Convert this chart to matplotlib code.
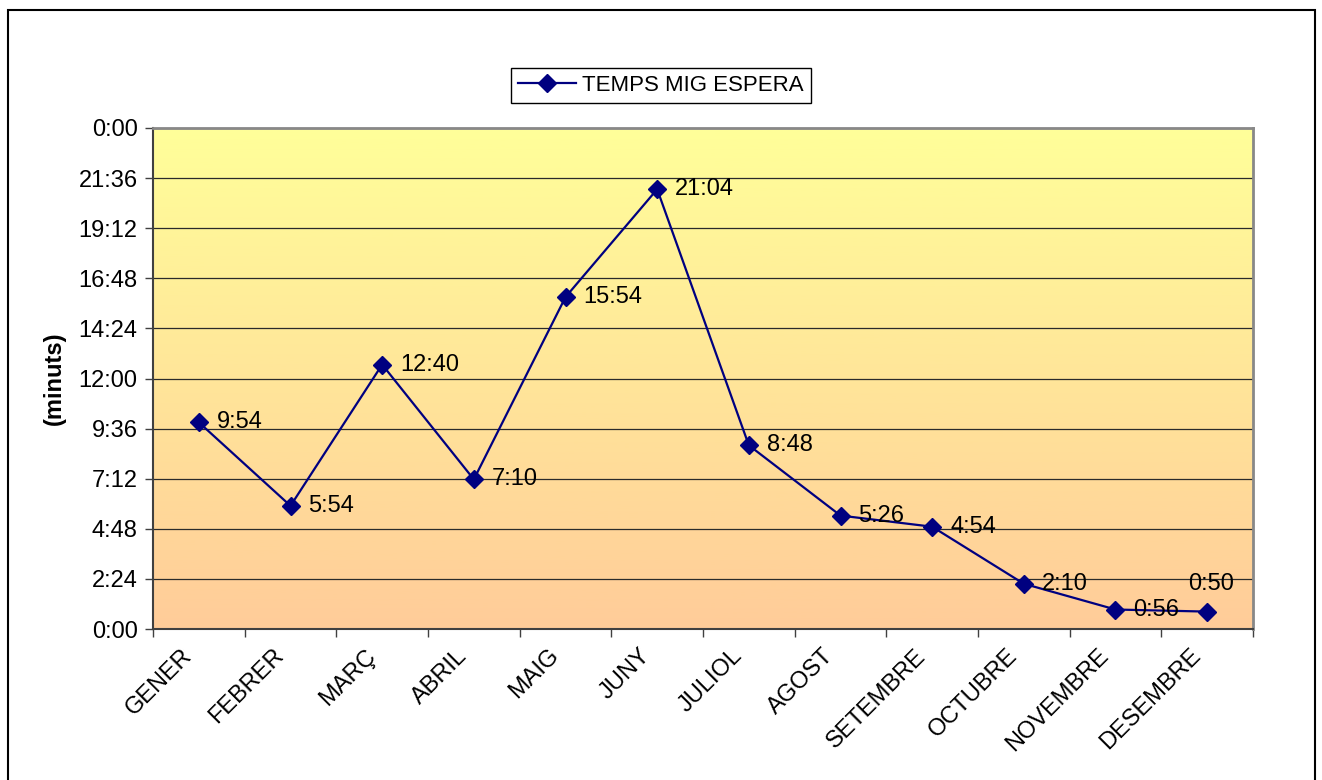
import numpy as np
import matplotlib
matplotlib.use("Agg")
import matplotlib.pyplot as plt
from matplotlib.colors import LinearSegmentedColormap
from matplotlib.patches import Rectangle
from matplotlib.ticker import FuncFormatter, MultipleLocator
from matplotlib.transforms import ScaledTranslation

plt.rcParams['font.family'] = ['Liberation Sans', 'DejaVu Sans']

# mesos i temps mig d'espera (min:seg)
mesos = ['GENER', 'FEBRER', 'MARÇ', 'ABRIL', 'MAIG', 'JUNY',
         'JULIOL', 'AGOST', 'SETEMBRE', 'OCTUBRE', 'NOVEMBRE', 'DESEMBRE']
temps = ['9:54', '5:54', '12:40', '7:10', '15:54', '21:04',
         '8:48', '5:26', '4:54', '2:10', '0:56', '0:50']
serie = 'TEMPS MIG ESPERA'


def a_minuts(t):
    m, s = t.split(':')
    return int(m) + int(s) / 60


valors = [a_minuts(t) for t in temps]


def fmt_temps(v, pos=None):
    total = int(round(v * 60))
    return f"{(total // 60) % 24}:{total % 60:02d}"


W, H = 1322, 780
fig = plt.figure(figsize=(W / 100, H / 100), dpi=100)
ax = fig.add_axes([153 / W, 1 - 629 / H, 1100 / W, 501 / H])

# fons degradat groc -> taronja
cmap = LinearSegmentedColormap.from_list('fons', ['#FFCC99', '#FFFF99'])
grad = np.linspace(0, 1, 256).reshape(-1, 1)
ax.imshow(grad, cmap=cmap, aspect='auto', origin='lower',
          extent=[0, 1, 0, 1], transform=ax.transAxes, zorder=0)

x = np.arange(len(mesos))
ax.set_xlim(-0.5, len(mesos) - 0.5)
ax.set_ylim(0, 24)
ax.yaxis.set_major_locator(MultipleLocator(2.4))
ax.yaxis.set_major_formatter(FuncFormatter(fmt_temps))
ax.grid(axis='y', color='#2a2a2a', lw=0.9, zorder=1)

ax.plot(x, valors, color='#000080', lw=1.6, marker='D', ms=9,
        mfc='#000080', mec='#000080', zorder=3, label=serie)

for i, (v, t) in enumerate(zip(valors, temps)):
    if i == len(mesos) - 1:
        ax.annotate(t, (x[i], v), xytext=(3, 20), textcoords='offset points',
                    ha='center', va='center', fontsize=17, zorder=4)
    else:
        ax.annotate(t, (x[i], v), xytext=(13, 0), textcoords='offset points',
                    ha='left', va='center', fontsize=17, zorder=4)

# marques de l'eix x entre categories
ax.set_xticks(np.arange(-0.5, len(mesos)), minor=False)
ax.set_xticklabels([])
ax.set_xticks(x, minor=True)
ax.set_xticklabels(mesos, minor=True, rotation=45, ha='right', va='center',
                   rotation_mode='anchor', fontsize=17)
ax.tick_params(axis='x', which='minor', length=0, pad=17)
ax.tick_params(axis='x', which='major', length=6, width=1, color='#404040')
ax.tick_params(axis='y', length=6, width=1, color='#404040', labelsize=17, pad=5)

desplaca = ScaledTranslation(-10 / 100, 0, fig.dpi_scale_trans)
for lab in ax.get_xticklabels(minor=True):
    lab.set_transform(lab.get_transform() + desplaca)

for side in ['left', 'bottom']:
    ax.spines[side].set_color('#404040')
    ax.spines[side].set_linewidth(1.5)
for side in ['top', 'right']:
    ax.spines[side].set_color('#888888')
    ax.spines[side].set_linewidth(2)

fig.text(54 / W, 1 - 378 / H, '(minuts)', rotation=90, ha='center', va='center',
         fontsize=17, fontweight='bold')

leg = fig.legend(loc='center', bbox_to_anchor=(661 / W, 1 - 85.5 / H),
                 fontsize=16, frameon=True, fancybox=False, edgecolor='black',
                 framealpha=1, handlelength=2.6, borderpad=0.3,
                 handletextpad=0.3)
leg.get_frame().set_linewidth(1)

# marc exterior del gràfic
fig.patches.append(Rectangle((8 / W, -0.05), 1307 / W, 1 - 10 / H + 0.05,
                             transform=fig.transFigure, fill=False,
                             edgecolor='black', lw=1.5))

fig.savefig('out.png', dpi=100)
